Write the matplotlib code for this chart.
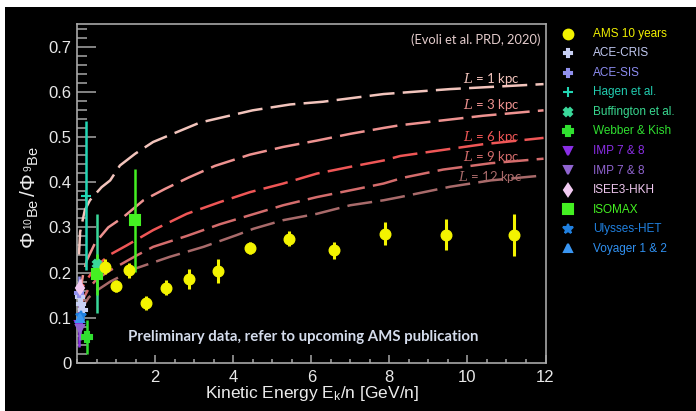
import matplotlib
matplotlib.use("Agg")
import matplotlib.pyplot as plt
from matplotlib.lines import Line2D
from matplotlib.patches import Rectangle
from matplotlib.ticker import MultipleLocator

plt.rcParams['font.family'] = ['Liberation Sans', 'DejaVu Sans']
plt.rcParams['mathtext.fontset'] = 'custom'
plt.rcParams['mathtext.rm'] = 'Liberation Sans'
plt.rcParams['mathtext.it'] = 'DejaVu Serif:italic'
plt.rcParams['mathtext.bf'] = 'Liberation Sans:bold'

W, H = 696, 411

# AMS 10 years
ams_e = [0.72, 1.00, 1.34, 1.77, 2.27, 2.88, 3.60, 4.44, 5.44, 6.57, 7.88, 9.45, 11.19]
ams_r = [0.213, 0.170, 0.205, 0.133, 0.167, 0.185, 0.204, 0.255, 0.275, 0.249, 0.286, 0.284, 0.283]
ams_err = [0.017, 0.013, 0.017, 0.015, 0.017, 0.022, 0.027, 0.013, 0.017, 0.018, 0.026, 0.034, 0.047]

# other experiments
ace_cris_e = [0.08, 0.11, 0.15]
ace_cris_r = [0.145, 0.130, 0.118]
ace_cris_err = [0.015, 0.015, 0.015]

ace_sis_e = [0.04]
ace_sis_r = [0.155]
ace_sis_err = [0.038]

hagen_e = [0.24]
hagen_r = [0.37]
hagen_err = [0.165]

buff_e = [0.50]
buff_r = [0.22]
buff_err = [0.11]

webber_e = [0.25]
webber_r = [0.058]
webber_err = [0.037]

imp1_e = [0.06]
imp1_r = [0.084]
imp1_lo = [0.048]
imp1_hi = [0.030]

imp2_e = [0.07]
imp2_r = [0.075]
imp2_err = [0.025]

isee_e = [0.08]
isee_r = [0.165]
isee_err = [0.02]

isomax_e = [0.50, 1.49]
isomax_r = [0.196, 0.316]
isomax_err = [0.045, 0.114]

ulysses_e = [0.09]
ulysses_r = [0.105]
ulysses_err = [0.02]

voyager_e = [0.07]
voyager_r = [0.10]
voyager_err = [0.015]

# propagation model curves for halo sizes L
l1_e = [0.05, 0.08, 0.2, 0.33, 0.63, 0.85, 1.1, 1.49, 1.95, 3.15, 4.5, 5.46, 6.3, 7.85, 9.56, 11.95]
l1_r = [0.24, 0.29, 0.338, 0.36, 0.389, 0.404, 0.437, 0.463, 0.489, 0.532, 0.559, 0.572, 0.578, 0.595, 0.606, 0.617]

l3_e = [0.05, 0.16, 0.25, 0.46, 0.8, 1.19, 1.7, 2.25, 2.85, 3.53, 4.43, 5.28, 6.14, 7.0, 7.85, 8.27, 10.4, 11.95]
l3_r = [0.14, 0.198, 0.227, 0.265, 0.30, 0.323, 0.36, 0.385, 0.41, 0.436, 0.461, 0.478, 0.492, 0.507, 0.52, 0.526, 0.547, 0.559]

l6_e = [0.05, 0.15, 0.3, 0.5, 0.85, 1.27, 1.95, 2.81, 3.66, 4.43, 5.28, 6.14, 7.0, 7.85, 8.28, 10.4, 11.95]
l6_r = [0.12, 0.17, 0.19, 0.215, 0.24, 0.26, 0.294, 0.33, 0.356, 0.378, 0.397, 0.419, 0.434, 0.448, 0.458, 0.484, 0.498]

l9_e = [0.05, 0.15, 0.3, 0.5, 0.85, 1.53, 1.95, 2.81, 3.66, 4.43, 5.28, 6.14, 7.0, 7.85, 8.36, 9.38, 10.6, 11.95]
l9_r = [0.11, 0.14, 0.165, 0.185, 0.205, 0.238, 0.257, 0.281, 0.307, 0.327, 0.349, 0.367, 0.382, 0.397, 0.41, 0.428, 0.442, 0.452]

l12_e = [0.05, 0.15, 0.3, 0.5, 0.85, 1.53, 2.38, 3.24, 4.09, 4.52, 5.28, 6.14, 7.0, 7.85, 8.27, 9.56, 10.6, 11.95]
l12_r = [0.10, 0.125, 0.145, 0.16, 0.18, 0.21, 0.235, 0.257, 0.283, 0.297, 0.316, 0.33, 0.349, 0.36, 0.367, 0.39, 0.404, 0.415]

curve_labels = ['1', '3', '6', '9', '12']
curve_colors = ['#f2c4bc', '#ee9290', '#ef5656', '#d46c6c', '#a86a6a']
label_x = [9.89, 9.89, 9.89, 9.89, 9.76]
label_y = [0.629, 0.570, 0.500, 0.455, 0.412]

fig = plt.figure(figsize=(W / 100, H / 100), dpi=100, facecolor='white')
fig.patches.append(Rectangle((5 / W, 0), 1, 1 - 7 / H, transform=fig.transFigure,
                             facecolor='black', edgecolor='none', zorder=-10))

ax = fig.add_axes([77 / W, 48 / H, 468.5 / W, 339 / H])
ax.set_facecolor('black')
ax.set_xlim(0, 12)
ax.set_ylim(0, 0.75)

for s in ax.spines.values():
    s.set_color('#a8a8a8')
    s.set_linewidth(1.2)

ax.xaxis.set_major_locator(MultipleLocator(2))
ax.xaxis.set_minor_locator(MultipleLocator(0.5))
ax.yaxis.set_major_locator(MultipleLocator(0.1))
ax.yaxis.set_minor_locator(MultipleLocator(0.02))
ax.tick_params(which='both', direction='in', colors='#a8a8a8', labelcolor='#e8e8e8',
               labelsize=12, width=1.1, top=False, right=False)
ax.tick_params(axis='y', which='major', length=13.5, pad=4)
ax.tick_params(axis='y', which='minor', length=7)
ax.tick_params(axis='x', which='major', length=5.5, pad=5)
ax.tick_params(axis='x', which='minor', length=3)
ax.set_yticks([0, 0.1, 0.2, 0.3, 0.4, 0.5, 0.6, 0.7])
ax.set_yticklabels(['0', '0.1', '0.2', '0.3', '0.4', '0.5', '0.6', '0.7'])
ax.set_xticks([2, 4, 6, 8, 10, 12])
ax.set_xticklabels(['2', '4', '6', '8', '10', '12'])

# model curves
curves = [(l1_e, l1_r), (l3_e, l3_r), (l6_e, l6_r), (l9_e, l9_r), (l12_e, l12_r)]
for (e, r), c, name, tx, ty in zip(curves, curve_colors, curve_labels, label_x, label_y):
    ax.plot(e, r, color=c, lw=1.8, dashes=(10, 3.3), zorder=2)
    ax.text(tx, ty, r'$L$ = ' + name + ' kpc', color=c, fontsize=9.5,
            family='Lato', va='center', ha='left', zorder=3)

ax.text(0.99, 0.955, '(Evoli et al. PRD, 2020)', transform=ax.transAxes,
        color='#e4cccc', fontsize=9.3, family='Lato', ha='right', va='center')
ax.text(1.31, 0.058, 'Preliminary data, refer to upcoming AMS publication',
        color='#d4dcec', fontsize=10.8, family='Lato', weight='bold',
        ha='left', va='center')

# experiments: (x, y, err, colour, marker, size, label)
sets = [
    (ace_cris_e, ace_cris_r, ace_cris_err, '#c8d0f4', 'P', 6, 'ACE-CRIS'),
    (ace_sis_e, ace_sis_r, ace_sis_err, '#9090ee', 'P', 6, 'ACE-SIS'),
    (hagen_e, hagen_r, hagen_err, '#22d6b4', '+', 7, 'Hagen et al.'),
    (buff_e, buff_r, buff_err, '#3ad89a', 'X', 6, 'Buffington et al.'),
    (webber_e, webber_r, webber_err, '#30e030', 'P', 7, 'Webber & Kish'),
    (imp1_e, imp1_r, [imp1_lo, imp1_hi], '#8a2ee6', 'v', 6, 'IMP 7 & 8'),
    (imp2_e, imp2_r, imp2_err, '#9064d0', 'v', 6, 'IMP 7 & 8'),
    (isee_e, isee_r, isee_err, '#f2caf2', 'd', 6, 'ISEE3-HKH'),
    (isomax_e, isomax_r, isomax_err, '#44f022', 's', 7, 'ISOMAX'),
    (ulysses_e, ulysses_r, ulysses_err, '#2080e0', '*', 7, 'Ulysses-HET'),
    (voyager_e, voyager_r, voyager_err, '#3a96f2', '^', 6, 'Voyager 1 & 2'),
]
for e, r, err, c, m, ms, lab in sets:
    ax.errorbar(e, r, yerr=err, fmt=m, color=c, ms=ms, elinewidth=1.8,
                capsize=0, mew=1.5, zorder=4, clip_on=False)

ax.errorbar(ams_e, ams_r, yerr=ams_err, fmt='o', color='#f4f400', ms=7.6,
            elinewidth=2.2, capsize=0, zorder=5)

# axis titles
fig.text(312 / W, 1 - 393 / H, r'Kinetic Energy E$_{\mathrm{k}}$/n [GeV/n]',
         color='#ececec', fontsize=12.5, ha='center', va='center')
fig.text(30 / W, 1 - 197 / H, r'$\Phi_{\,^{10}\mathrm{Be}}\,/\Phi_{\,^{9}\mathrm{Be}}$',
         color='#ececec', fontsize=15, rotation=90, ha='center', va='center')

# legend drawn row by row on the right side
leg = [('AMS 10 years', '#f4f400', 'o', 7)] + [(s[6], s[3], s[4], s[5]) for s in sets]
leg_text = ['#f0f000', '#c0c8f0', '#8c8cf0', '#22ccb0', '#38d890', '#30e030',
            '#8a2ee6', '#9064d0', '#f0c8f0', '#44f022', '#2080e0', '#3090f0']
for i, ((lab, c, m, ms), tc) in enumerate(zip(leg, leg_text)):
    py = 34 + 19.5 * i
    fig.add_artist(Line2D([568 / W], [1 - py / H], marker=m, color=c, ms=ms,
                          mew=1.5, ls='none', transform=fig.transFigure))
    fig.text(593 / W, 1 - py / H, lab, color=tc, fontsize=8.5,
             ha='left', va='center')

fig.savefig('out.png', dpi=100, facecolor=fig.get_facecolor())
